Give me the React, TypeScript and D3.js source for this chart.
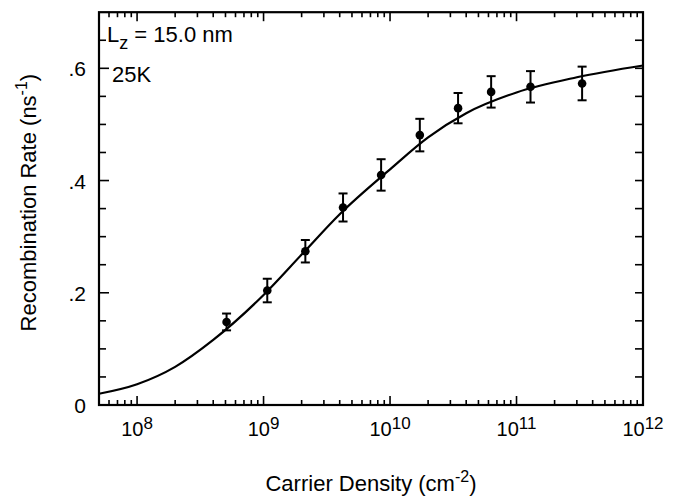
import React from "react";
import * as d3 from "d3";

const density = [5.1e8, 1.07e9, 2.14e9, 4.25e9, 8.5e9, 1.72e10, 3.45e10, 6.3e10, 1.29e11, 3.3e11];
const rate = [0.148, 0.204, 0.274, 0.352, 0.41, 0.481, 0.529, 0.558, 0.567, 0.573];
const rateError = [0.015, 0.021, 0.02, 0.025, 0.028, 0.029, 0.027, 0.028, 0.028, 0.03];

const fitDensity = [5e7, 1e8, 2e8, 4e8, 1e9, 2e9, 4e9, 1e10, 2e10, 4e10, 1e11, 3e11, 1e12];
const fitRate = [0.02, 0.037, 0.068, 0.116, 0.196, 0.268, 0.34, 0.42, 0.477, 0.52, 0.557, 0.584, 0.605];

const xDecades = [8, 9, 10, 11, 12];
const yLabelTicks = [0, 0.2, 0.4, 0.6];

const W = 674;
const H = 497;
const M = { left: 99, right: 643, top: 12.2, bottom: 405 };
const FONT = "'Liberation Sans', Arial, Helvetica, sans-serif";

export default function App() {
  const x = d3.scaleLog().domain([5e7, 1e12]).range([M.left, M.right]);
  const y = d3.scaleLinear().domain([0, 0.7]).range([M.bottom, M.top]);

  const xTicks = x.ticks().filter((t) => t > 5e7 && t <= 1e12);
  const isDecade = (t: number) => Math.abs(Math.log10(t) - Math.round(Math.log10(t))) < 1e-9;
  const yTicks = d3.range(1, 14).map((i) => i * 0.05);
  const isMajorY = (v: number) => yLabelTicks.some((l) => Math.abs(l - v) < 1e-9);

  const fitPts: [number, number][] = fitDensity.map((d, i) => [x(d), y(fitRate[i])]);
  const line = d3.line().curve(d3.curveMonotoneX)(fitPts) || "";

  const fmtY = (v: number) => (v === 0 ? "0" : d3.format(".1f")(v).replace(/^0/, ""));

  return (
    <svg
      width={W}
      height={H}
      style={{ position: "absolute", left: 0, top: 0, background: "#fff" }}
      fontFamily={FONT}
    >
      <rect x={0} y={0} width={W} height={H} fill="#fff" />
      {xTicks.map((t, i) => {
        const len = isDecade(t) ? 9 : 5;
        return (
          <g key={"xt" + i} stroke="#000" strokeWidth={1.6}>
            <line x1={x(t)} x2={x(t)} y1={M.bottom} y2={M.bottom - len} />
            <line x1={x(t)} x2={x(t)} y1={M.top} y2={M.top + len} />
          </g>
        );
      })}
      {yTicks.map((v, i) => {
        const len = isMajorY(v) ? 10 : 7;
        return (
          <g key={"yt" + i} stroke="#000" strokeWidth={1.6}>
            <line x1={M.left} x2={M.left + len} y1={y(v)} y2={y(v)} />
            <line x1={M.right} x2={M.right - 8} y1={y(v)} y2={y(v)} />
          </g>
        );
      })}
      <rect
        x={M.left}
        y={M.top}
        width={M.right - M.left}
        height={M.bottom - M.top}
        fill="none"
        stroke="#000"
        strokeWidth={2.2}
      />
      {xDecades.map((p) => (
        <text key={"xl" + p} x={x(Math.pow(10, p))} y={436} textAnchor="middle" fontSize={20} fill="#000">
          10
          <tspan dy={-7} fontSize={17}>
            {p}
          </tspan>
        </text>
      ))}
      {yLabelTicks.map((v) => (
        <text key={"yl" + v} x={86} y={y(v) + 8} textAnchor="end" fontSize={21} fill="#000">
          {fmtY(v)}
        </text>
      ))}
      <path d={line} fill="none" stroke="#000" strokeWidth={2.2} />
      {density.map((d, i) => {
        const cx = x(d);
        const y1 = y(rate[i] + rateError[i]);
        const y0 = y(rate[i] - rateError[i]);
        return (
          <g key={"p" + i} stroke="#000" strokeWidth={2}>
            <line x1={cx} x2={cx} y1={y0} y2={y1} />
            <line x1={cx - 4.5} x2={cx + 4.5} y1={y1} y2={y1} />
            <line x1={cx - 4.5} x2={cx + 4.5} y1={y0} y2={y0} />
            <circle cx={cx} cy={y(rate[i])} r={4.3} fill="#000" stroke="none" />
          </g>
        );
      })}
      <text x={107} y={42} fontSize={22} fill="#000">
        L
        <tspan dy={7} fontSize={18}>
          z
        </tspan>
        <tspan dy={-7}>{" = 15.0 nm"}</tspan>
      </text>
      <text x={112} y={82} fontSize={22} fill="#000">
        25K
      </text>
      <text x={(M.left + M.right) / 2} y={491} textAnchor="middle" fontSize={22} fill="#000">
        Carrier Density (cm
        <tspan dy={-9} fontSize={16}>
          -2
        </tspan>
        <tspan dy={9}>)</tspan>
      </text>
      <text
        transform={`translate(36, ${(M.top + M.bottom) / 2 - 6}) rotate(-90)`}
        textAnchor="middle"
        fontSize={22}
        fill="#000"
      >
        Recombination Rate (ns
        <tspan dy={-9} fontSize={16}>
          -1
        </tspan>
        <tspan dy={9}>)</tspan>
      </text>
    </svg>
  );
}
